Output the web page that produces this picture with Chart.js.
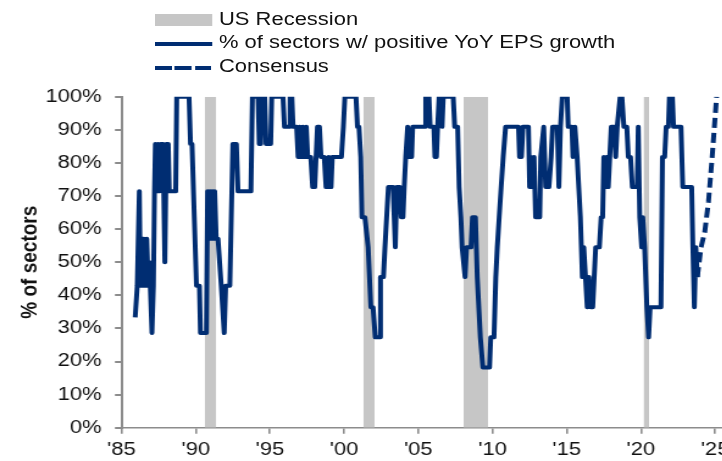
<!DOCTYPE html>
<html>
<head>
<meta charset="utf-8">
<script src="https://cdn.jsdelivr.net/npm/chart.js@4.4.1/dist/chart.umd.min.js"></script>
<style>
  html, body { margin: 0; padding: 0; overflow: hidden; background: #fff; }
  /* the reference is stretched sideways, so the whole drawing is too */
  #stage { position: absolute; left: 0; top: 0; width: 604px; height: 461px;
           transform: scaleX(1.22); transform-origin: 0 0; }
  #chart { position: absolute; left: 0; top: 0; }
  .row { position: absolute; left: 127px; height: 24px; line-height: 24px; white-space: nowrap;
         font: 18px "Liberation Sans", Arial, sans-serif; color: #111; }
  .row span.txt { position: absolute; left: 52.5px; top: 0; }
  .sw { position: absolute; left: 0; }
</style>
</head>
<body>
<div id="stage">
  <canvas id="chart" width="604" height="461"></canvas>
  <div class="row" style="top:8.5px"><div class="sw" style="top:5.5px;width:46.5px;height:12px;background:#c6c6c6"></div><span class="txt">US Recession</span></div>
  <div class="row" style="top:32px"><div class="sw" style="top:10.3px;width:46.5px;height:4px;background:#002d72"></div><span class="txt">% of sectors w/ positive YoY EPS growth</span></div>
  <div class="row" style="top:55.7px">
    <div class="sw" style="top:10.6px;width:13.7px;height:4px;background:#002d72"></div>
    <div class="sw" style="left:16.4px;top:10.6px;width:13.7px;height:4px;background:#002d72"></div>
    <div class="sw" style="left:32.8px;top:10.6px;width:13.7px;height:4px;background:#002d72"></div>
    <span class="txt">Consensus</span></div>
</div>
<script>
const NAVY = "#002d72";
const GREY_AXIS = "#8c8c8c";

const xTickYears = [1985, 1990, 1995, 2000, 2005, 2010, 2015, 2020, 2025];
const xTickLabels = ["'85", "'90", "'95", "'00", "'05", "'10", "'15", "'20", "'25"];
const yTickValues = [0, 10, 20, 30, 40, 50, 60, 70, 80, 90, 100];

const recessionStarts = [1990.6, 2001.3, 2008.05, 2020.18];
const recessionEnds = [1991.38, 2002.05, 2009.7, 2020.55];

// % of sectors with positive YoY EPS growth
const lineYears = [
  1985.92, 1986.06, 1986.2, 1986.27, 1986.35, 1986.42, 1986.5, 1986.6, 1986.7, 1986.8,
  1986.88, 1987.05, 1987.15, 1987.22, 1987.28, 1987.38, 1987.46, 1987.56, 1987.64, 1987.8,
  1987.92, 1988.02, 1988.15, 1988.22, 1988.65, 1988.72, 1989.55, 1989.65, 1989.75, 1990.05,
  1990.25, 1990.32, 1990.72, 1990.8, 1990.88, 1990.96, 1991.04, 1991.12, 1991.2, 1991.28,
  1991.38, 1991.5, 1991.72, 1991.92, 1992.02, 1992.3, 1992.5, 1992.74, 1992.85, 1993.72,
  1993.82, 1994.2, 1994.28, 1994.38, 1994.45, 1994.65, 1994.74, 1995.05, 1995.12, 1995.88,
  1995.98, 1996.3, 1996.36, 1996.48, 1996.56, 1996.8, 1996.9, 1997.0, 1997.1, 1997.22,
  1997.32, 1997.45, 1997.55, 1997.75, 1997.88, 1998.02, 1998.2, 1998.34, 1998.44, 1998.66,
  1998.78, 1998.9, 1998.96, 1999.02, 1999.12, 1999.2, 1999.82, 1999.95, 2000.05, 2000.8,
  2000.9, 2001.0, 2001.12, 2001.2, 2001.4, 2001.62, 2001.8, 2001.95, 2002.1, 2002.4,
  2002.45, 2002.65, 2002.75, 2002.98, 2003.3, 2003.45, 2003.55, 2003.75, 2003.85, 2003.97,
  2004.05, 2004.15, 2004.28, 2004.4, 2004.55, 2004.62, 2005.45, 2005.5, 2005.72, 2005.8,
  2006.05, 2006.12, 2006.22, 2006.3, 2006.4, 2006.55, 2006.6, 2006.68, 2007.35, 2007.45,
  2007.65, 2007.75, 2007.87, 2007.95, 2008.15, 2008.25, 2008.55, 2008.65, 2008.85, 2008.97,
  2009.18, 2009.35, 2009.8, 2009.88, 2010.1, 2010.22, 2010.32, 2010.45, 2010.58, 2010.72,
  2010.88, 2011.75, 2011.82, 2011.95, 2012.05, 2012.42, 2012.5, 2012.6, 2012.7, 2012.8,
  2012.9, 2013.18, 2013.25, 2013.45, 2013.58, 2013.8, 2013.95, 2014.05, 2014.37, 2014.47,
  2014.58, 2014.7, 2015.03, 2015.1, 2015.35, 2015.42, 2015.55, 2015.7, 2015.92, 2016.05,
  2016.15, 2016.38, 2016.5, 2016.62, 2016.75, 2016.95, 2017.2, 2017.32, 2017.42, 2017.5,
  2017.6, 2017.7, 2017.8, 2017.9, 2018.0, 2018.2, 2018.3, 2018.4, 2018.6, 2018.72,
  2018.85, 2019.05, 2019.15, 2019.3, 2019.42, 2019.75, 2019.82, 2019.92, 2020.05, 2020.12,
  2020.25, 2020.4, 2020.52, 2020.62, 2021.35, 2021.45, 2021.6, 2021.7, 2021.85, 2021.92,
  2022.12, 2022.2, 2022.7, 2022.82, 2023.42, 2023.5, 2023.6, 2023.7, 2023.8
];
const lineValues = [
  33.3, 42.9, 71.4, 42.9, 57.1, 42.9, 57.1, 42.9, 57.1, 42.9,
  50, 28.6, 42.9, 71.4, 85.7, 71.4, 85.7, 71.4, 85.7, 85.7,
  50, 85.7, 85.7, 71.4, 71.4, 100, 100, 85.7, 85.7, 42.9,
  42.9, 28.6, 28.6, 71.4, 57.1, 71.4, 57.1, 71.4, 57.1, 71.4,
  57.1, 57.1, 42.9, 28.6, 42.9, 42.9, 85.7, 85.7, 71.4, 71.4,
  100, 100, 85.7, 85.7, 100, 100, 85.7, 85.7, 100, 100,
  90.9, 90.9, 100, 100, 90.9, 90.9, 81.8, 90.9, 81.8, 90.9,
  81.8, 90.9, 81.8, 81.8, 72.7, 72.7, 90.9, 90.9, 81.8, 81.8,
  72.7, 72.7, 81.8, 72.7, 72.7, 81.8, 81.8, 90.9, 100, 100,
  90.9, 90.9, 81.8, 63.6, 63.6, 54.5, 36.4, 36.4, 27.3, 27.3,
  45.5, 45.5, 54.5, 72.7, 72.7, 54.5, 72.7, 72.7, 63.6, 63.6,
  72.7, 81.8, 90.9, 81.8, 81.8, 90.9, 90.9, 100, 100, 90.9,
  90.9, 81.8, 81.8, 90.9, 100, 100, 90.9, 100, 100, 90.9,
  90.9, 72.7, 63.6, 54.5, 45.5, 54.5, 54.5, 63.6, 63.6, 45.5,
  27.3, 18.2, 18.2, 27.3, 27.3, 45.5, 54.5, 63.6, 72.7, 81.8,
  90.9, 90.9, 81.8, 81.8, 90.9, 90.9, 72.7, 81.8, 72.7, 81.8,
  63.6, 63.6, 81.8, 90.9, 72.7, 72.7, 81.8, 90.9, 90.9, 72.7,
  90.9, 100, 100, 90.9, 90.9, 81.8, 90.9, 81.8, 63.6, 45.5,
  54.5, 36.4, 45.5, 36.4, 36.4, 54.5, 54.5, 63.6, 63.6, 81.8,
  72.7, 81.8, 72.7, 81.8, 90.9, 90.9, 81.8, 90.9, 100, 100,
  90.9, 90.9, 81.8, 81.8, 72.7, 72.7, 90.9, 63.6, 54.5, 63.6,
  54.5, 36.4, 27.3, 36.4, 36.4, 81.8, 81.8, 90.9, 90.9, 100,
  100, 90.9, 90.9, 72.7, 72.7, 54.5, 36.4, 54.5, 45.5
];

const consensusYears = [2023.8, 2024.05, 2024.3, 2024.55, 2024.8, 2025.1];
const consensusValues = [45.5, 54.5, 59.1, 68.2, 81.8, 100];

const toPoints = (xs, ys) => xs.map((x, i) => ({ x: x, y: ys[i] }));

Chart.defaults.font.family = '"Liberation Sans", Arial, sans-serif';
Chart.defaults.font.size = 18;
Chart.defaults.color = "#111";

const datasets = [
  {
    label: "% of sectors w/ positive YoY EPS growth",
    data: toPoints(lineYears, lineValues),
    borderColor: NAVY,
    borderWidth: 4,
    borderJoinStyle: "round",
    pointRadius: 0,
    fill: false,
  },
  {
    label: "Consensus",
    data: toPoints(consensusYears, consensusValues),
    borderColor: NAVY,
    borderWidth: 4,
    borderDash: [10, 5],
    pointRadius: 0,
    fill: false,
  },
];

recessionStarts.forEach((start, i) => {
  datasets.push({
    label: "US Recession",
    data: [{ x: start, y: 100 }, { x: recessionEnds[i], y: 100 }],
    backgroundColor: "#c6c6c6",
    borderWidth: 0,
    pointRadius: 0,
    fill: "origin",
  });
});

const ctx = document.getElementById("chart").getContext("2d");
new Chart(ctx, {
  type: "line",
  data: { datasets: datasets },
  options: {
    responsive: false,
    animation: false,
    layout: { padding: { top: 96.7, right: 4.5, bottom: 0, left: 0 } },
    plugins: { legend: { display: false }, tooltip: { enabled: false } },
    scales: {
      x: {
        type: "linear",
        min: 1985,
        max: 2026,
        afterBuildTicks: (scale) => {
          scale.ticks = xTickYears.map((v) => ({ value: v }));
        },
        afterFit: (scale) => {
          scale.height = 33.3;
        },
        ticks: {
          autoSkip: false,
          maxRotation: 0,
          padding: 6,
          callback: (value, index) => xTickLabels[index],
        },
        grid: {
          drawOnChartArea: false,
          drawTicks: true,
          tickLength: 6,
          color: GREY_AXIS,
          lineWidth: 1.6,
        },
        border: { display: true, color: GREY_AXIS, width: 1.6 },
      },
      y: {
        min: 0,
        max: 100,
        afterBuildTicks: (scale) => {
          scale.ticks = yTickValues.map((v) => ({ value: v }));
        },
        afterFit: (scale) => {
          scale.width = 99.6;
        },
        ticks: {
          padding: 11,
          callback: (value) => value + "%",
        },
        grid: {
          drawOnChartArea: false,
          drawTicks: true,
          tickLength: 5.4,
          color: GREY_AXIS,
          lineWidth: 2,
        },
        border: { display: true, color: GREY_AXIS, width: 2 },
        title: {
          display: true,
          text: "% of sectors",
          color: "#111",
          font: { size: 19, weight: "bold" },
          padding: { top: 13.2, bottom: 0 },
        },
      },
    },
  },
});
</script>
</body>
</html>
